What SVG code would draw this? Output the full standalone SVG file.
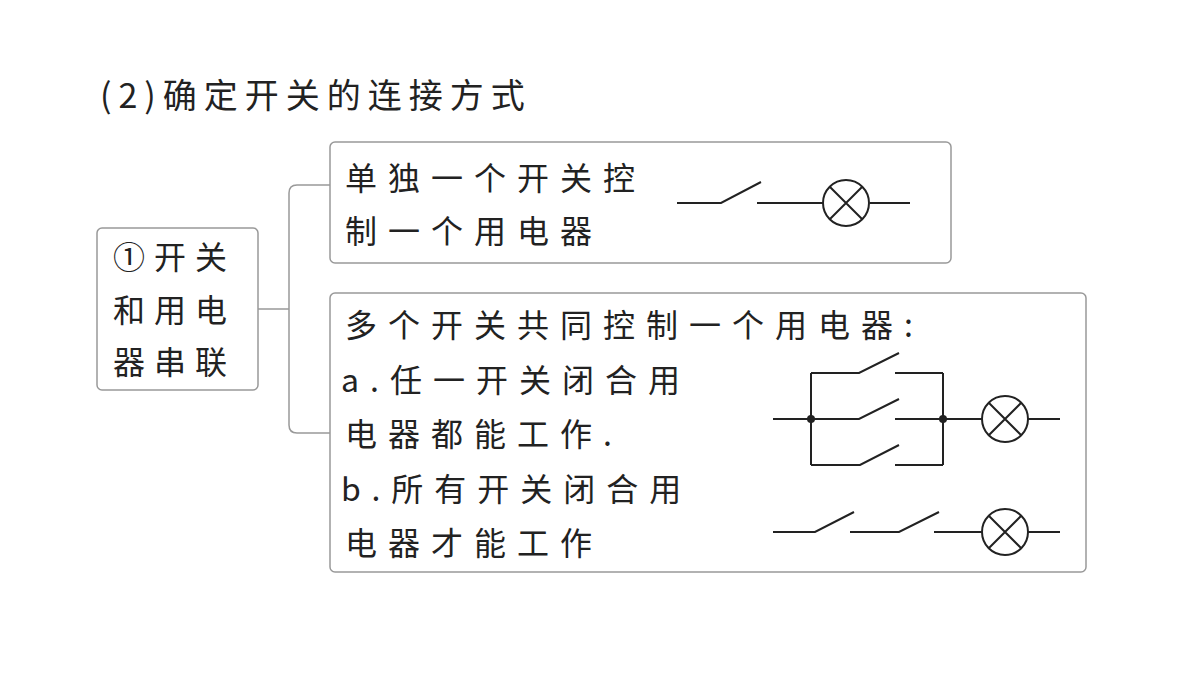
<svg xmlns="http://www.w3.org/2000/svg" width="1200" height="675" viewBox="0 0 1200 675">
<style>
.t{font-family:"Noto Sans CJK SC","Liberation Sans",sans-serif;font-size:32px;fill:#222;letter-spacing:11px}
.b{fill:#fff;stroke:#999;stroke-width:1.5}
.w{stroke:#222;stroke-width:2;fill:none}
</style>
<rect width="1200" height="675" fill="#fff"/>
<text x="100" y="108" class="t" style="font-size:34px;letter-spacing:7px">(2)确定开关的连接方式</text>
<g id="connectors"><path class="w" style="stroke:#999;stroke-width:1.5" d="M258 309H289M330 185H297Q289 185 289 193V425Q289 433 297 433H330"/></g>
<g id="n0"><rect class="b" x="97" y="228" width="161" height="162" rx="5"/>
<text class="t" x="113" y="269" style="letter-spacing:9px">①开关</text><text class="t" x="113" y="322" style="letter-spacing:9px">和用电</text><text class="t" x="113" y="374" style="letter-spacing:9px">器串联</text></g>
<g id="n1"><rect class="b" x="330" y="142" width="621" height="121" rx="5"/>
<text class="t" x="345" y="190">单独一个开关控</text><text class="t" x="345" y="243">制一个用电器</text>
<path class="w" d="M677 203H721L761 182M757 203H823M870 203H910"/><circle class="w" cx="846" cy="203" r="23"/><path class="w" d="M830 187L862 219M862 187L830 219"/></g>
<g id="n2"><rect class="b" x="330" y="293" width="756" height="279" rx="5"/>
<text class="t" x="345" y="337">多个开关共同控制一个用电器:</text>
<text class="t" x="341" y="392">a.任一开关闭合用</text>
<text class="t" x="345" y="446">电器都能工作.</text>
<text class="t" x="341" y="501">b.所有开关闭合用</text>
<text class="t" x="345" y="555">电器才能工作</text>
<path class="w" d="M773 419H859L899 399M895 419H982M811 373V465M943 373V465M811 373H859L899 353M895 373H943M811 465H860L899 445M895 465H943M1028 419H1060"/>
<circle cx="811" cy="419" r="4" fill="#222"/><circle cx="943" cy="419" r="4" fill="#222"/>
<circle class="w" cx="1005" cy="419" r="23"/><path class="w" d="M989 403L1021 435M1021 403L989 435"/>
<path class="w" d="M773 532H815L854 512M850 532H899L939 512M934 532H982M1028 532H1060"/>
<circle class="w" cx="1005" cy="532" r="23"/><path class="w" d="M989 516L1021 548M1021 516L989 548"/></g>
</svg>
